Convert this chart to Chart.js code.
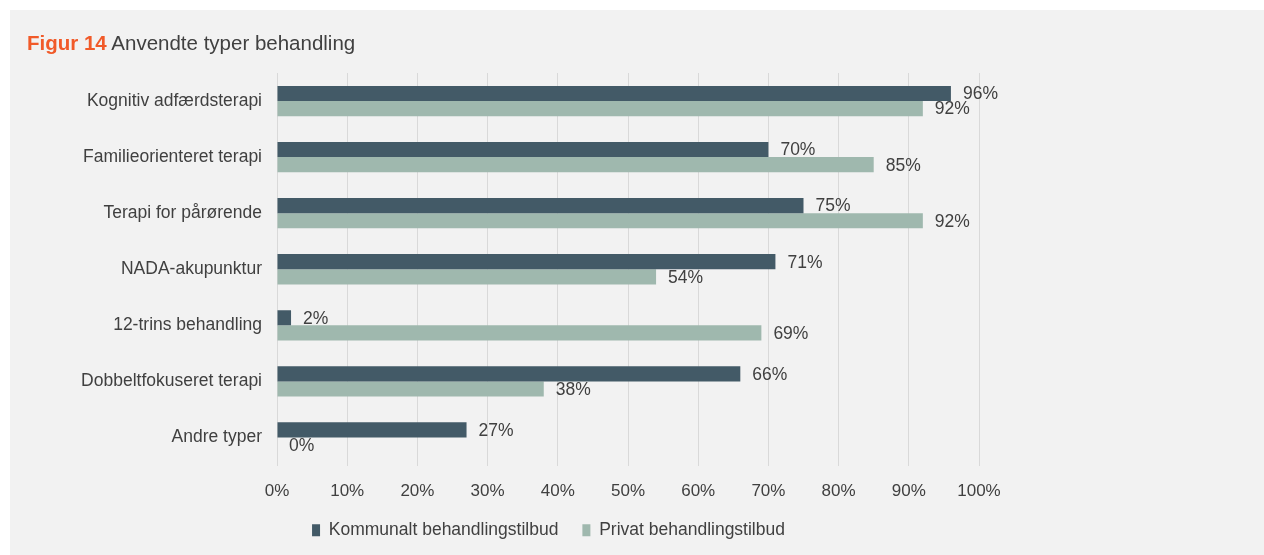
<!DOCTYPE html>
<html>
<head>
<meta charset="utf-8">
<script src="https://cdn.jsdelivr.net/npm/chart.js@4/dist/chart.umd.min.js"></script>
<style>
    body { margin: 0; background: #ffffff; font-family: "Liberation Sans", Arial, sans-serif; }
    #panel { position: absolute; left: 10px; top: 10px; width: 1254px; height: 545px; background: #f2f2f2; }
    #title { position: absolute; left: 17px; top: 21px; font-size: 20.5px; color: #404040; white-space: nowrap; }
    #title b { color: #f15a29; }
    #chartBox { position: absolute; left: 0; top: 0; width: 1254px; height: 545px; }
</style>
</head>
<body>
<div id="panel">
    <div id="chartBox"><canvas id="treatChart"></canvas></div>
    <div id="title"><b>Figur 14</b> Anvendte typer behandling</div>
</div>
<script>
//Data
const categories = [
    "Kognitiv adfærdsterapi",
    "Familieorienteret terapi",
    "Terapi for pårørende",
    "NADA-akupunktur",
    "12-trins behandling",
    "Dobbeltfokuseret terapi",
    "Andre typer"
];
const kommunalt = [96, 70, 75, 71, 2, 66, 27];
const privat = [92, 85, 92, 54, 69, 38, 0];
const seriesNames = ["Kommunalt behandlingstilbud", "Privat behandlingstilbud"];
const xTicks = [0, 10, 20, 30, 40, 50, 60, 70, 80, 90, 100];

const textColor = "#404040";
const fontFamily = "'Liberation Sans', Arial, sans-serif";

//Procent-etiketter til højre for søjlerne
const valueLabels = {
    id: "valueLabels",
    afterLayout(chart) {
        //legenden står lidt til højre for midten i originalen
        chart.legend.left += 54;
        chart.legend.right += 54;
    },
    afterDatasetsDraw(chart) {
        const ctx = chart.ctx;
        ctx.save();
        ctx.font = "17.5px " + fontFamily;
        ctx.fillStyle = textColor;
        ctx.textAlign = "left";
        ctx.textBaseline = "middle";
        chart.data.datasets.forEach((ds, i) => {
            chart.getDatasetMeta(i).data.forEach((bar, j) => {
                ctx.fillText(ds.data[j] + "%", bar.x + 12, bar.y + 1);
            });
        });
        ctx.restore();
    }
};

new Chart(document.getElementById("treatChart"), {
    type: "bar",
    data: {
        labels: categories,
        datasets: [
            { label: seriesNames[0], data: kommunalt, backgroundColor: "#435a67" },
            { label: seriesNames[1], data: privat, backgroundColor: "#9fb8ae" }
        ]
    },
    options: {
        indexAxis: "y",
        responsive: true,
        maintainAspectRatio: false,
        animation: false,
        datasets: { bar: { categoryPercentage: 0.54, barPercentage: 1 } },
        layout: { padding: { left: 0, right: 285, top: 63, bottom: 6 } },
        scales: {
            x: {
                min: 0,
                max: 100,
                afterBuildTicks: scale => { scale.ticks = xTicks.map(v => ({ value: v })); },
                afterFit: scale => { scale.height = 32; },
                grid: { color: "#d9d9d9", drawTicks: false },
                border: { display: false },
                ticks: {
                    padding: 16,
                    color: textColor,
                    font: { size: 17, family: fontFamily },
                    callback: v => v + "%"
                }
            },
            y: {
                afterFit: scale => { scale.width = 267; },
                grid: { display: false, drawTicks: false },
                border: { display: false },
                ticks: {
                    padding: 15,
                    color: textColor,
                    font: { size: 17.5, family: fontFamily }
                }
            }
        },
        plugins: {
            legend: {
                position: "bottom",
                labels: {
                    boxWidth: 8,
                    boxHeight: 12,
                    padding: 24,
                    color: textColor,
                    font: { size: 17.5, family: fontFamily }
                }
            },
            tooltip: { enabled: false }
        }
    },
    plugins: [valueLabels]
});
</script>
</body>
</html>
